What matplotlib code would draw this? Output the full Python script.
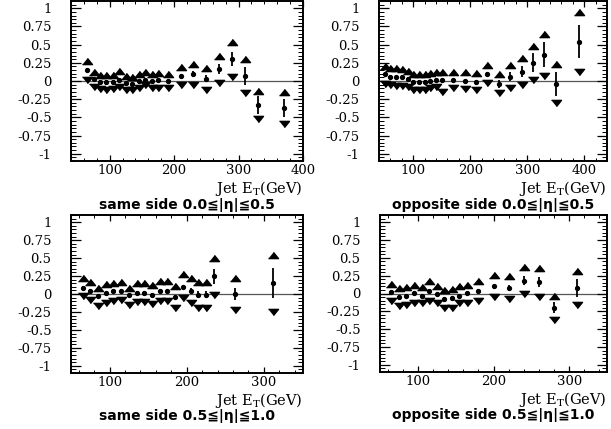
import matplotlib
matplotlib.use("Agg")
import matplotlib.pyplot as plt
from matplotlib.ticker import MultipleLocator

plt.rcParams['font.family'] = ['DejaVu Serif']
plt.rcParams['mathtext.fontset'] = 'dejavuserif'

# ---------------- data ----------------
# panel 1: same side 0.0<=|eta|<=0.5
p1_x    = [65, 75, 85, 95, 105, 115, 125, 135, 145, 155, 165, 175, 190, 210, 230, 250, 270, 290, 310, 330, 370]
p1_y    = [0.15, 0.03, -0.01, -0.01, -0.01, 0.02, -0.03, -0.04, 0.0, 0.02, 0.0, 0.01, 0.0, 0.07, 0.10, 0.03, 0.16, 0.30, 0.07, -0.33, -0.37]
p1_err  = [0.03, 0.02, 0.02, 0.02, 0.02, 0.02, 0.02, 0.02, 0.02, 0.02, 0.02, 0.02, 0.02, 0.03, 0.04, 0.05, 0.07, 0.10, 0.12, 0.12, 0.12]
p1_up   = [0.27, 0.12, 0.08, 0.08, 0.08, 0.14, 0.07, 0.05, 0.09, 0.13, 0.10, 0.11, 0.10, 0.19, 0.24, 0.18, 0.35, 0.54, 0.30, -0.14, -0.155]
p1_dn   = [0.02, -0.08, -0.11, -0.12, -0.11, -0.08, -0.12, -0.13, -0.09, -0.06, -0.10, -0.10, -0.10, -0.06, -0.05, -0.12, -0.03, 0.06, -0.16, -0.52, -0.585]

# panel 2: opposite side 0.0<=|eta|<=0.5
p2_x    = [50, 60, 70, 80, 90, 100, 110, 120, 130, 140, 150, 170, 190, 210, 230, 250, 270, 290, 310, 330, 350, 390]
p2_y    = [0.09, 0.06, 0.05, 0.05, 0.03, -0.01, -0.01, -0.01, 0.0, 0.02, 0.01, 0.01, 0.0, -0.02, 0.10, -0.04, 0.06, 0.13, 0.25, 0.36, -0.04, 0.54]
p2_err  = [0.02, 0.02, 0.02, 0.02, 0.02, 0.02, 0.02, 0.02, 0.02, 0.02, 0.02, 0.02, 0.02, 0.03, 0.03, 0.05, 0.06, 0.08, 0.13, 0.17, 0.16, 0.23]
p2_up   = [0.21, 0.18, 0.18, 0.17, 0.14, 0.10, 0.10, 0.09, 0.11, 0.13, 0.12, 0.12, 0.12, 0.11, 0.22, 0.10, 0.22, 0.31, 0.48, 0.65, 0.24, 0.95]
p2_dn   = [-0.04, -0.06, -0.07, -0.07, -0.08, -0.12, -0.12, -0.12, -0.10, -0.08, -0.15, -0.10, -0.11, -0.13, -0.03, -0.17, -0.09, -0.06, 0.01, 0.07, -0.30, 0.13]

# panel 3: same side 0.5<=|eta|<=1.0
p3_x    = [65, 75, 85, 95, 105, 115, 125, 135, 145, 155, 165, 175, 185, 195, 205, 215, 225, 235, 262, 312]
p3_y    = [0.09, 0.045, -0.03, 0.013, 0.036, 0.045, -0.02, 0.02, 0.02, -0.01, 0.045, 0.045, -0.04, 0.10, 0.045, -0.01, -0.01, 0.245, 0.0, 0.15]
p3_err  = [0.02, 0.02, 0.02, 0.02, 0.02, 0.02, 0.02, 0.02, 0.02, 0.02, 0.02, 0.02, 0.03, 0.03, 0.04, 0.05, 0.05, 0.11, 0.08, 0.21]
p3_up   = [0.22, 0.17, 0.09, 0.14, 0.156, 0.17, 0.09, 0.147, 0.156, 0.125, 0.18, 0.18, 0.11, 0.28, 0.22, 0.17, 0.17, 0.50, 0.22, 0.55]
p3_dn   = [-0.03, -0.085, -0.165, -0.12, -0.10, -0.085, -0.156, -0.11, -0.11, -0.14, -0.10, -0.10, -0.19, -0.05, -0.13, -0.20, -0.20, -0.01, -0.22, -0.25]

# panel 4: opposite side 0.5<=|eta|<=1.0
p4_x    = [65, 75, 85, 95, 105, 115, 125, 135, 145, 155, 165, 180, 200, 220, 240, 260, 280, 310]
p4_y    = [0.02, -0.045, -0.03, 0.013, -0.03, 0.036, -0.01, -0.076, -0.06, -0.03, 0.005, 0.036, 0.10, 0.08, 0.18, 0.156, -0.20, 0.08]
p4_err  = [0.02, 0.02, 0.02, 0.02, 0.02, 0.02, 0.02, 0.02, 0.03, 0.02, 0.02, 0.03, 0.04, 0.04, 0.06, 0.07, 0.08, 0.13]
p4_up   = [0.14, 0.08, 0.094, 0.125, 0.094, 0.17, 0.11, 0.045, 0.07, 0.10, 0.125, 0.17, 0.26, 0.245, 0.37, 0.36, -0.04, 0.31]
p4_dn   = [-0.10, -0.18, -0.165, -0.13, -0.14, -0.10, -0.13, -0.20, -0.20, -0.14, -0.13, -0.10, -0.05, -0.076, -0.01, -0.05, -0.37, -0.165]

titles = ["same side 0.0\u2266|\u03b7|\u22660.5", "opposite side 0.0\u2266|\u03b7|\u22660.5",
          "same side 0.5\u2266|\u03b7|\u22661.0", "opposite side 0.5\u2266|\u03b7|\u22661.0"]
xlims = [(40, 400), (40, 440), (50, 350), (50, 350)]
yticks = [-1, -0.75, -0.5, -0.25, 0, 0.25, 0.5, 0.75, 1]
ytick_labels = ["-1", "-0.75", "-0.5", "-0.25", "0", "0.25", "0.5", "0.75", "1"]

panels = [(p1_x, p1_y, p1_err, p1_up, p1_dn),
          (p2_x, p2_y, p2_err, p2_up, p2_dn),
          (p3_x, p3_y, p3_err, p3_up, p3_dn),
          (p4_x, p4_y, p4_err, p4_up, p4_dn)]

# wide, flat triangles as in the reference
tri_up = [(-1.0, -0.62), (1.0, -0.62), (0.0, 0.62)]
tri_dn = [(-1.0, 0.62), (1.0, 0.62), (0.0, -0.62)]

W, H = 611, 429
fig = plt.figure(figsize=(W / 100, H / 100), dpi=100)

# axes boxes in pixels: left, top, right, bottom
boxes = [(71, 1, 303, 161), (379, 1, 607, 161), (71, 215, 302.5, 373), (380, 215, 607, 372)]

for i, ((x, y, e, up, dn), (l, t, r, b)) in enumerate(zip(panels, boxes)):
    ax = fig.add_axes([l / W, 1 - b / H, (r - l) / W, (b - t) / H])
    ax.set_xlim(*xlims[i])
    ax.set_ylim(-1.1, 1.1)
    ax.axhline(0, color='#555555', lw=0.9, zorder=1)
    ax.errorbar(x, y, yerr=e, fmt='o', color='black', ms=2.8, elinewidth=1.3, capsize=0, zorder=3)
    ax.plot(x, up, linestyle='none', marker=tri_up, color='black', ms=7.2, zorder=3)
    ax.plot(x, dn, linestyle='none', marker=tri_dn, color='black', ms=7.2, zorder=3)

    ax.set_yticks(yticks)
    ax.set_yticklabels(ytick_labels)
    ax.yaxis.set_minor_locator(MultipleLocator(0.05))
    ax.xaxis.set_major_locator(MultipleLocator(100))
    ax.xaxis.set_minor_locator(MultipleLocator(20))
    ax.tick_params(axis='both', which='both', direction='in', top=True, right=True, labelsize=9.5)
    ax.tick_params(axis='y', which='major', length=7, width=0.9, pad=14)
    ax.tick_params(axis='y', which='minor', length=3.5, width=0.7)
    ax.tick_params(axis='x', which='major', length=4.5, width=0.9, pad=2)
    ax.tick_params(axis='x', which='minor', length=2.2, width=0.7)
    for s in ax.spines.values():
        s.set_linewidth(1.4)

    ax.text(1.0, -0.172, r"Jet E$_\mathrm{T}$(GeV)", transform=ax.transAxes, ha='right', va='center', fontsize=10.5)
    ax.text(0.5, -0.275, titles[i], transform=ax.transAxes, ha='center', va='center', fontsize=10,
            family=['DejaVu Sans'], fontweight='bold')

fig.savefig("out.png", dpi=100)
